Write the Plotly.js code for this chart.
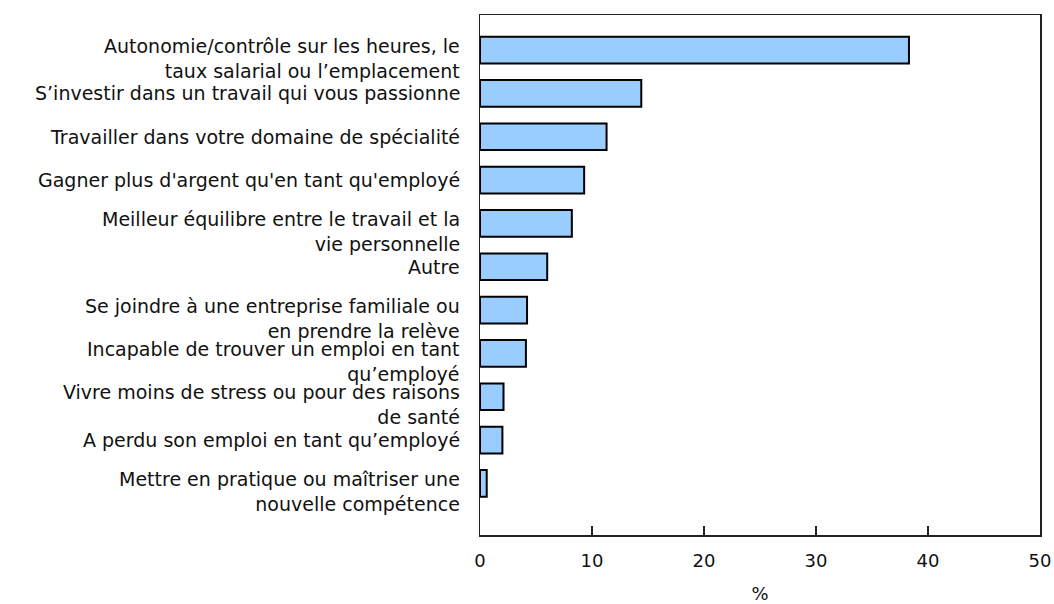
<!DOCTYPE html>
<html>
<head>
<meta charset="utf-8">
<script src="https://cdn.plot.ly/plotly-3.0.1.min.js"></script>
<style>html,body{margin:0;padding:0;background:#fff;}#chart{width:1054px;height:604px;}</style>
</head>
<body>
<div id="chart"></div>
<script>
const categories = [
  "Autonomie/contrôle sur les heures, le<br>taux salarial ou l’emplacement",
  "S’investir dans un travail qui vous passionne",
  "Travailler dans votre domaine de spécialité",
  "Gagner plus d'argent qu'en tant qu'employé",
  "Meilleur équilibre entre le travail et la<br>vie personnelle",
  "Autre",
  "Se joindre à une entreprise familiale ou<br>en prendre la relève",
  "Incapable de trouver un emploi en tant<br>qu’employé",
  "Vivre moins de stress ou pour des raisons<br>de santé",
  "A perdu son emploi en tant qu’employé",
  "Mettre en pratique ou maîtriser une<br>nouvelle compétence"
];
const values = [38.3, 14.4, 11.3, 9.3, 8.2, 6.0, 4.2, 4.1, 2.1, 2.0, 0.6];
const xTicks = [0, 10, 20, 30, 40, 50];
const xTitle = "%";

const fam = "DejaVu Sans, Verdana, sans-serif";
const txt = "#111111";

const trace = {
  type: "bar",
  orientation: "h",
  y: categories,
  x: values,
  width: 0.615,
  marker: {color: "#99CCFF", line: {color: "#000000", width: 2}},
  hoverinfo: "x+y"
};

const labelAnnotations = categories.map(function (c) {
  const multi = c.indexOf("<br>") >= 0;
  return {
    x: 0, xref: "x", y: c, yref: "y",
    text: c, showarrow: false,
    xanchor: "right", yanchor: "middle", align: "right",
    xshift: -18, yshift: multi ? -8 : 0,
    font: {family: fam, size: 19, color: txt}
  };
});

const layout = {
  width: 1054,
  height: 604,
  margin: {l: 480, r: 14, t: 15, b: 69, pad: 0},
  paper_bgcolor: "#ffffff",
  plot_bgcolor: "#ffffff",
  font: {family: fam, size: 18, color: txt},
  showlegend: false,
  xaxis: {
    range: [0, 50],
    tickvals: xTicks,
    ticktext: xTicks.map(String),
    ticks: "inside",
    ticklen: 9,
    tickwidth: 1.5,
    tickcolor: "#222",
    ticklabelstandoff: 9,
    showgrid: false,
    zeroline: false,
    showline: true,
    linecolor: "#222",
    linewidth: 1.5,
    mirror: true,
    tickfont: {family: fam, size: 18, color: txt},
    title: {text: xTitle, font: {family: fam, size: 18, color: txt}, standoff: 26},
    fixedrange: true
  },
  yaxis: {
    type: "category",
    range: [11.19, -0.81],
    showgrid: false,
    zeroline: false,
    showline: true,
    linecolor: "#222",
    linewidth: 1.5,
    mirror: true,
    ticks: "",
    showticklabels: false,
    fixedrange: true
  },
  annotations: labelAnnotations
};

Plotly.newPlot("chart", [trace], layout, {displayModeBar: false, staticPlot: true});
</script>
</body>
</html>
